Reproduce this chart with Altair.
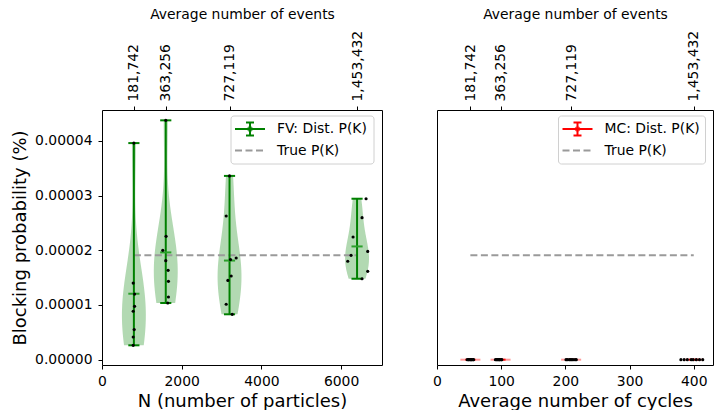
import altair as alt
import numpy as np
import pandas as pd

# ---------------- data ----------------
N_POS = [800, 1600, 3200, 6400]
EVENT_LABELS = ["181,742", "363,256", "727,119", "1,453,432"]
TRUE_PK = 1.91e-5

FV_800 = [3.96e-5, 1.40e-5, 1.20e-5, 0.976e-5, 0.885e-5, 0.55e-5, 0.415e-5, 0.263e-5]
FV_800_X = [800, 783, 817, 817, 783, 808, 783, 783]
FV_1600 = [4.376e-5, 2.256e-5, 2.00e-5, 1.81e-5, 1.634e-5, 1.433e-5, 1.146e-5, 1.037e-5]
FV_1600_X = [1600, 1608, 1525, 1600, 1659, 1667, 1667, 1650]
FV_3200 = [3.36e-5, 2.627e-5, 1.86e-5, 1.83e-5, 1.53e-5, 1.45e-5, 1.013e-5, 0.83e-5]
FV_3200_X = [3200, 3116, 3367, 3225, 3242, 3158, 3116, 3267]
FV_6400 = [2.943e-5, 2.596e-5, 2.243e-5, 1.98e-5, 1.908e-5, 1.80e-5, 1.616e-5, 1.48e-5]
FV_6400_X = [6626, 6525, 6300, 6668, 6250, 6166, 6668, 6525]

MC_AVG_CYCLES = [52, 99, 209, 400]
MC_X_1 = [47, 49, 50, 52, 53, 54, 56, 57]
MC_X_2 = [91, 93, 94, 96, 97, 98, 100, 101]
MC_X_3 = [201, 203, 206, 208, 210, 212, 215, 217]
MC_X_4 = [380, 385, 390, 396, 399, 404, 409, 414]
MC_P = [0.0] * 8

FV_VALUES = [FV_800, FV_1600, FV_3200, FV_6400]
FV_XS = [FV_800_X, FV_1600_X, FV_3200_X, FV_6400_X]
MC_XS = [MC_X_1, MC_X_2, MC_X_3, MC_X_4]

# ---------------- tables ----------------
fv_rows = []
for pos, vals, xs in zip(N_POS, FV_VALUES, FV_XS):
    for v, xj in zip(vals, xs):
        fv_rows.append({"pos": pos, "p": v, "xj": xj})
fv_df = pd.DataFrame(fv_rows)

mc_rows = []
for c, xs in zip(MC_AVG_CYCLES, MC_XS):
    for xj, v in zip(xs, MC_P):
        mc_rows.append({"c": c, "xj": xj, "p": v})
mc_df = pd.DataFrame(mc_rows)

top_l_df = pd.DataFrame({"pos": N_POS, "lab": EVENT_LABELS})
top_r_df = pd.DataFrame({"pos": MC_AVG_CYCLES, "lab": EVENT_LABELS})
true_l_df = pd.DataFrame({"x1": [N_POS[0]], "x2": [N_POS[-1]], "p": [TRUE_PK]})
true_r_df = pd.DataFrame({"x1": [MC_AVG_CYCLES[0]], "x2": [MC_AVG_CYCLES[-1]], "p": [TRUE_PK]})

# Scott bandwidth as used by matplotlib's violinplot
BWS = [float(np.std(v, ddof=1) * len(v) ** (-0.2)) for v in FV_VALUES]

# ---------------- styling ----------------
FONT = "DejaVu Sans"
HALF_W = 300      # half violin width, N units
CAP_HALF = 140    # half cap width, N units
GREEN = "#008000"
GRAY = "#9a9a9a"
W_L, W_R, H = 280, 276, 255

ys = alt.Scale(domain=[-0.097e-5, 4.565e-5], nice=False, zero=False)
xs_l = alt.Scale(domain=[0, 7026], nice=False, zero=False)
xs_r = alt.Scale(domain=[0, 430], nice=False, zero=False)

yaxis = alt.Axis(values=[0, 1e-5, 2e-5, 3e-5, 4e-5], format=".5f",
                 title="Blocking probability (%)", titlePadding=5, labelPadding=6)
xaxis_l = alt.Axis(values=[0, 2000, 4000, 6000], format="d",
                   title="N (number of particles)", titlePadding=5, labelPadding=5)
xaxis_r = alt.Axis(values=[0, 100, 200, 300, 400], format="d",
                   title="Average number of cycles", titlePadding=5, labelPadding=5)


def top_axis(values):
    expr = " : ".join(f"datum.value == {p} ? '{l}'" for p, l in zip(values, EVENT_LABELS)) + " : ''"
    return alt.Axis(orient="top", values=values, labelExpr=expr, labelAngle=270,
                    labelAlign="left", labelBaseline="middle", labelPadding=5,
                    title="Average number of events", titleFontSize=13.9, titlePadding=9)


def X(field, scale, axis):
    return alt.X(field, type="quantitative", scale=scale, axis=axis)


def Y(field, axis):
    return alt.Y(field, type="quantitative", scale=ys, axis=axis)


one = pd.DataFrame({"a": [0]})


def legend_layers(x0, label, color, light):
    box = alt.Chart(one).mark_rect(fill="white", stroke="#cccccc", strokeWidth=1,
                                   cornerRadius=3, opacity=0.9).encode(
        x=alt.value(x0), x2=alt.value(x0 + (147 if light else 143)),
        y=alt.value(6), y2=alt.value(54))
    hline = alt.Chart(one).mark_rule(color=color, strokeWidth=2).encode(
        x=alt.value(x0 + 4), x2=alt.value(x0 + 34), y=alt.value(19))
    vline = alt.Chart(one).mark_rule(color=color, strokeWidth=2).encode(
        x=alt.value(x0 + 19), y=alt.value(12.5), y2=alt.value(25.5))
    cap1 = alt.Chart(one).mark_rule(color=color, strokeWidth=2).encode(
        x=alt.value(x0 + 15), x2=alt.value(x0 + 23), y=alt.value(12.5))
    cap2 = alt.Chart(one).mark_rule(color=color, strokeWidth=2).encode(
        x=alt.value(x0 + 15), x2=alt.value(x0 + 23), y=alt.value(25.5))
    mk = alt.Chart(one).mark_point(shape="cross", angle=45, filled=True, color=color, size=30).encode(
        x=alt.value(x0 + 19), y=alt.value(19))
    t1 = alt.Chart(one).mark_text(text=label, align="left", baseline="middle", font=FONT,
                                  fontSize=13.9, color="black").encode(
        x=alt.value(x0 + 46), y=alt.value(19))
    dl = alt.Chart(one).mark_rule(color=GRAY, strokeWidth=2, strokeDash=[7, 3.5]).encode(
        x=alt.value(x0 + 4), x2=alt.value(x0 + 34), y=alt.value(40.5))
    t2 = alt.Chart(one).mark_text(text="True P(K)", align="left", baseline="middle", font=FONT,
                                  fontSize=13.9, color="black").encode(
        x=alt.value(x0 + 46), y=alt.value(40.5))
    return [box, hline, vline, cap1, cap2, mk, t1, dl, t2]


# ---------------- left panel ----------------
violins = []
for pos, bw in zip(N_POS, BWS):
    violins.append(
        alt.Chart(fv_df).transform_filter(alt.datum.pos == pos)
        .transform_density("p", as_=["p", "dens"], bandwidth=bw, steps=100, groupby=["pos"])
        .transform_joinaggregate(maxd="max(dens)", groupby=["pos"])
        .transform_calculate(xl=f"datum.pos - {HALF_W} * datum.dens / datum.maxd",
                             xr=f"datum.pos + {HALF_W} * datum.dens / datum.maxd")
        .mark_area(orient="horizontal", color=GREEN, opacity=0.3)
        .encode(y=Y("p", yaxis), x=X("xl", xs_l, xaxis_l), x2="xr:Q")
    )

true_l = alt.Chart(true_l_df).mark_rule(color=GRAY, strokeWidth=2, strokeDash=[7, 3.5]).encode(
    x=X("x1", xs_l, xaxis_l), x2="x2:Q", y=Y("p", yaxis))

stats = alt.Chart(fv_df).transform_aggregate(
    mn="min(p)", mx="max(p)", mean="mean(p)", groupby=["pos"]
).transform_calculate(cl=f"datum.pos - {CAP_HALF}", cr=f"datum.pos + {CAP_HALF}")

bar = stats.mark_rule(color=GREEN, strokeWidth=2).encode(
    x=X("pos", xs_l, xaxis_l), y=Y("mn", yaxis), y2="mx:Q")
cap_min = stats.mark_rule(color=GREEN, strokeWidth=2).encode(
    x=X("cl", xs_l, xaxis_l), x2="cr:Q", y=Y("mn", yaxis))
cap_max = stats.mark_rule(color=GREEN, strokeWidth=2).encode(
    x=X("cl", xs_l, xaxis_l), x2="cr:Q", y=Y("mx", yaxis))
cap_mean = stats.mark_rule(color="#2ca02c", strokeWidth=2).encode(
    x=X("cl", xs_l, xaxis_l), x2="cr:Q", y=Y("mean", yaxis))

dots_l = alt.Chart(fv_df).mark_circle(color="black", size=10, opacity=1).encode(
    x=X("xj", xs_l, xaxis_l), y=Y("p", yaxis))

inner_l = alt.layer(*violins, true_l, bar, cap_min, cap_max, cap_mean, dots_l,
                    *legend_layers(129, "FV: Dist. P(K)", GREEN, False))
top_l = alt.Chart(top_l_df).mark_point(opacity=0).encode(x=X("pos", xs_l, top_axis(N_POS)))
left = alt.layer(inner_l, top_l).resolve_axis(x="independent").properties(width=W_L, height=H)

# ---------------- right panel ----------------
yaxis_none = None
true_r = alt.Chart(true_r_df).mark_rule(color=GRAY, strokeWidth=2, strokeDash=[7, 3.5]).encode(
    x=X("x1", xs_r, xaxis_r), x2="x2:Q", y=Y("p", yaxis_none))

seg = alt.Chart(mc_df).transform_aggregate(p="mean(p)", groupby=["c"])
seg_light = seg.transform_calculate(sl="datum.c - 15.6", sr="datum.c + 15.6").mark_rule(
    color="red", opacity=0.4, strokeWidth=2).encode(
    x=X("sl", xs_r, xaxis_r), x2="sr:Q", y=Y("p", yaxis_none))
seg_dark = seg.transform_calculate(sl="datum.c - 7.8", sr="datum.c + 7.8").mark_rule(
    color="red", opacity=0.9, strokeWidth=2).encode(
    x=X("sl", xs_r, xaxis_r), x2="sr:Q", y=Y("p", yaxis_none))
dots_r = alt.Chart(mc_df).mark_circle(color="black", size=10, opacity=1).encode(
    x=X("xj", xs_r, xaxis_r), y=Y("p", yaxis_none))

inner_r = alt.layer(true_r, seg_light, seg_dark, dots_r,
                    *legend_layers(121.5, "MC: Dist. P(K)", "red", True))
top_r = alt.Chart(top_r_df).mark_point(opacity=0).encode(x=X("pos", xs_r, top_axis(MC_AVG_CYCLES)))
right = alt.layer(inner_r, top_r).resolve_axis(x="independent").properties(width=W_R, height=H)

chart = alt.hconcat(left, right, spacing=55, bounds="flush").properties(
    padding={"left": 11, "top": 6, "right": 0, "bottom": 0}
).configure_view(
    stroke="black", strokeWidth=1
).configure_axis(
    labelFont=FONT, titleFont=FONT, labelFontSize=13.9, titleFontSize=18,
    titleFontWeight="normal", labelColor="black", titleColor="black",
    tickColor="black", tickSize=4, tickWidth=1, domain=False, grid=False,
    labelPadding=5, labelFlush=False, labelOverlap=False
)

chart.save("out.html", embed_options={"renderer": "svg", "actions": False})
